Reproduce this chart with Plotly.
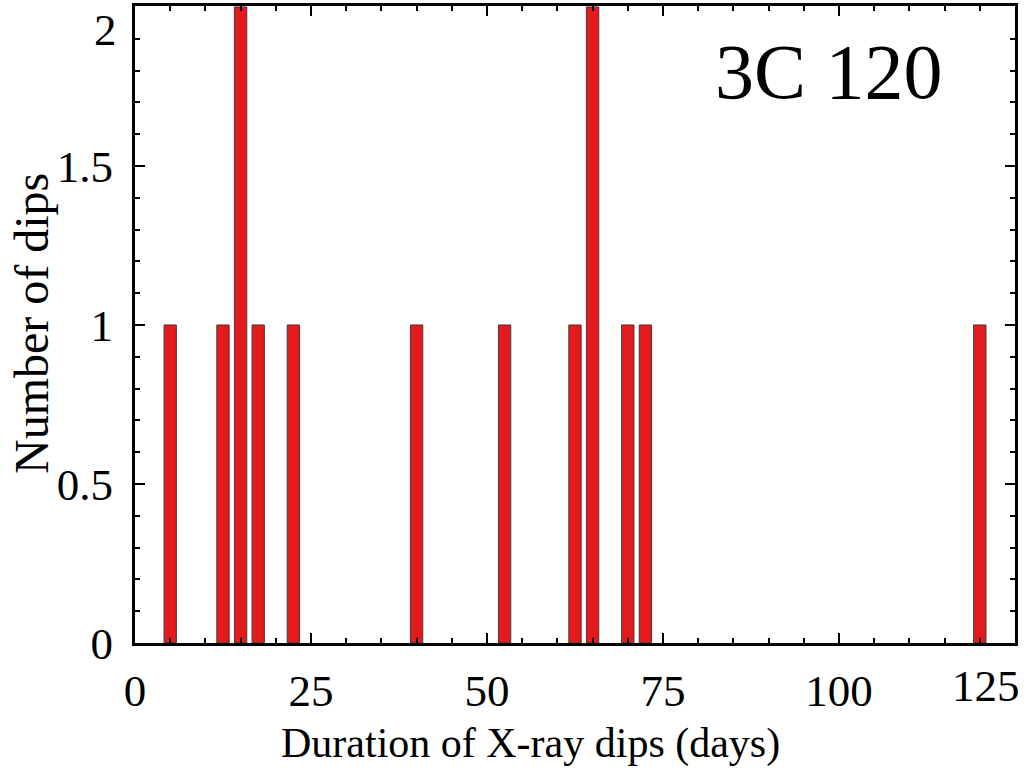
import plotly.graph_objects as go

# Data: histogram of dip durations (bin centres, counts)
durations = [5, 12.5, 15, 17.5, 22.5, 40, 52.5, 62.5, 65, 70, 72.5, 120]
counts = [1, 1, 2, 1, 1, 1, 1, 1, 2, 1, 1, 1]
x_ticks = [0, 25, 50, 75, 100, 125]
x_ticktext = ["0", "25", "50", "75", "100", ""]
y_ticks = [0, 0.5, 1, 1.5, 2]
y_ticktext = ["0", "0.5", "1", "1.5", ""]

FONT = "Liberation Serif"
W, H = 1030, 778
L, R, T, B = 135, 15, 6, 135
pw, ph = W - L - R, H - T - B

fig = go.Figure(go.Bar(
    x=durations, y=counts, width=1.75,
    marker=dict(color="#e41a1c", line=dict(color="#3a3a3a", width=1)),
))

axis_common = dict(
    showgrid=False, zeroline=False, showline=True, linecolor="black", linewidth=3,
    mirror="allticks", ticks="inside", tickcolor="black", tickwidth=2,
    tickfont=dict(family=FONT, size=45, color="black"),
)

fig.update_xaxes(
    range=[0, 125], tickmode="array", tickvals=x_ticks, ticktext=x_ticktext,
    ticklen=10, ticklabelstandoff=6,
    minor=dict(ticks="inside", dtick=5, tick0=0, ticklen=5, tickwidth=1.5, tickcolor="black"),
    **axis_common,
)
fig.update_yaxes(
    range=[0, 2.003], tickmode="array", tickvals=y_ticks, ticktext=y_ticktext,
    ticklen=10, ticklabelstandoff=10,
    minor=dict(ticks="inside", dtick=0.1, tick0=0, ticklen=5, tickwidth=1.5, tickcolor="black"),
    **axis_common,
)

def px_x(p):
    return (p - L) / pw

def px_y(p):
    return (H - B - p) / ph

annotations = [
    dict(text="3C 120", x=px_x(829), y=px_y(71), xref="paper", yref="paper",
         xanchor="center", yanchor="middle", showarrow=False,
         font=dict(family=FONT, size=78, color="black")),
    dict(text="125", x=px_x(1022), y=px_y(686), xref="paper", yref="paper",
         xanchor="right", yanchor="middle", showarrow=False,
         font=dict(family=FONT, size=45, color="black")),
    dict(text="2", x=px_x(119), y=px_y(30), xref="paper", yref="paper",
         xanchor="right", yanchor="middle", showarrow=False,
         font=dict(family=FONT, size=45, color="black")),
    dict(text="Duration of X-ray dips (days)", x=px_x(530), y=px_y(743), xref="paper", yref="paper",
         xanchor="center", yanchor="middle", showarrow=False,
         font=dict(family=FONT, size=42, color="black")),
    dict(text="Number of dips", x=px_x(31), y=px_y(324), xref="paper", yref="paper",
         xanchor="center", yanchor="middle", showarrow=False, textangle=-90,
         font=dict(family=FONT, size=48, color="black")),
]

fig.update_layout(
    width=W, height=H, margin=dict(l=L, r=R, t=T, b=B, autoexpand=False),
    paper_bgcolor="white", plot_bgcolor="white", showlegend=False,
    annotations=annotations,
)

fig.write_html("out.html")
